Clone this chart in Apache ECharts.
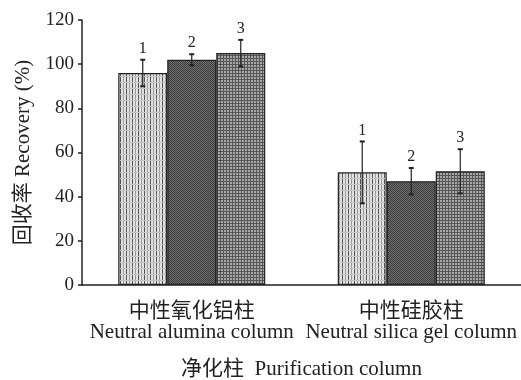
<!DOCTYPE html>
<html><head><meta charset="utf-8">
<script src="https://cdn.jsdelivr.net/npm/echarts@6/dist/echarts.min.js"></script>
<style>html,body{margin:0;padding:0;background:#fff}#c{width:521px;height:380px}</style>
</head><body><div id="c"></div>
<script>
const categoriesCN = ['中性氧化铝柱', '中性硅胶柱'];
const categoriesEN = ['Neutral alumina column', 'Neutral silica gel column'];
const seriesNames = ['1', '2', '3'];
const recovery1 = [96, 51];
const recovery2 = [102, 47];
const recovery3 = [105, 51.5];
const error1 = [6, 14];
const error2 = [2.5, 6];
const error3 = [6, 10];
const yTicks = [0, 20, 40, 60, 80, 100, 120];

const values = [recovery1, recovery2, recovery3];
const errors = [error1, error2, error3];

function pattern(kind) {
  const c = document.createElement('canvas');
  c.width = 6; c.height = 6;
  const g = c.getContext('2d');
  if (kind === 0) {
    g.fillStyle = '#e2e2e2'; g.fillRect(0, 0, 6, 6);
    g.fillStyle = '#555'; g.fillRect(0, 0, 1, 6);
    g.fillStyle = '#999'; g.fillRect(3, 0, 1, 6);
    g.fillStyle = '#c4c4c4'; g.fillRect(0, 4, 6, 1);
  } else if (kind === 1) {
    g.fillStyle = '#6c6c6c'; g.fillRect(0, 0, 6, 6);
    g.fillStyle = '#404040';
    for (let i = 0; i < 6; i++) for (let j = 0; j < 6; j++) if ((i + j) % 2 === 0) g.fillRect(i, j, 1, 1);
  } else {
    g.fillStyle = '#a8a8a8'; g.fillRect(0, 0, 6, 6);
    g.fillStyle = '#555'; g.fillRect(0, 1, 6, 1); g.fillRect(0, 4, 6, 1); g.fillRect(1, 0, 1, 6); g.fillRect(4, 0, 1, 6);
  }
  return { image: c, repeat: 'repeat' };
}

const BAR_W = 49;
const font = '"Liberation Serif", "Noto Sans CJK SC", serif';

const barSeries = values.map((v, i) => ({
  type: 'bar', name: seriesNames[i], data: v, barWidth: BAR_W, barGap: '0%',
  itemStyle: { color: pattern(i), borderColor: '#222', borderWidth: 1.2 },
  silent: true
}));

const errSeries = values.map((v, i) => ({
  type: 'custom', name: 'err' + i,
  data: v.map((val, k) => [k, val, errors[i][k]]),
  z: 10,
  renderItem: function (params, api) {
    const k = api.value(0), val = api.value(1), e = api.value(2);
    const base = api.coord([k, val]);
    const x = base[0] + (i - 1) * BAR_W;
    const top = api.coord([k, val + e])[1];
    const bot = api.coord([k, val - e])[1];
    const cap = 2.5;
    return {
      type: 'group', children: [
        { type: 'line', shape: { x1: x, y1: top, x2: x, y2: bot }, style: { stroke: '#222', lineWidth: 1.2 } },
        { type: 'line', shape: { x1: x - cap, y1: top, x2: x + cap, y2: top }, style: { stroke: '#222', lineWidth: 2 } },
        { type: 'line', shape: { x1: x - cap, y1: bot, x2: x + cap, y2: bot }, style: { stroke: '#222', lineWidth: 2 } },
        { type: 'text', style: { x: x, y: top - 3, text: seriesNames[i], fill: '#222', font: '16px ' + font, textAlign: 'center', textVerticalAlign: 'bottom' } }
      ]
    };
  }
}));

const chart = echarts.init(document.getElementById('c'));
chart.setOption({
  animation: false,
  grid: { left: 82, right: 0, top: 20, bottom: 95, containLabel: false, outerBoundsMode: 'none' },
  xAxis: {
    type: 'category', data: categoriesCN,
    axisLine: { lineStyle: { color: '#222', width: 1.5 } },
    axisTick: { show: false },
    axisLabel: {
      interval: 0, margin: 15,
      formatter: (v, idx) => '{cn|' + v + '}\n{en|' + categoriesEN[idx] + '}',
      rich: {
        cn: { fontFamily: font, fontSize: 21, color: '#222', lineHeight: 22 },
        en: { fontFamily: font, fontSize: 21, color: '#222', lineHeight: 20 }
      }
    },
    name: '净化柱  Purification column', nameLocation: 'middle', nameGap: 74,
    nameTextStyle: { fontFamily: font, fontSize: 21, color: '#222' }
  },
  yAxis: {
    type: 'value', min: 0, max: 120, interval: 20,
    axisLine: { show: true, lineStyle: { color: '#222', width: 1.5 } },
    axisTick: { show: true, inside: false, length: 4, lineStyle: { color: '#222', width: 1.5 } },
    splitLine: { show: false },
    axisLabel: { fontFamily: font, fontSize: 19, color: '#222', margin: 8,
      formatter: v => yTicks.includes(v) ? String(v) : '' },
    name: '回收率 Recovery (%)', nameLocation: 'middle', nameGap: 48, nameRotate: 90,
    nameTextStyle: { fontFamily: font, fontSize: 21, color: '#222' }
  },
  series: barSeries.concat(errSeries)
});
</script></body></html>
